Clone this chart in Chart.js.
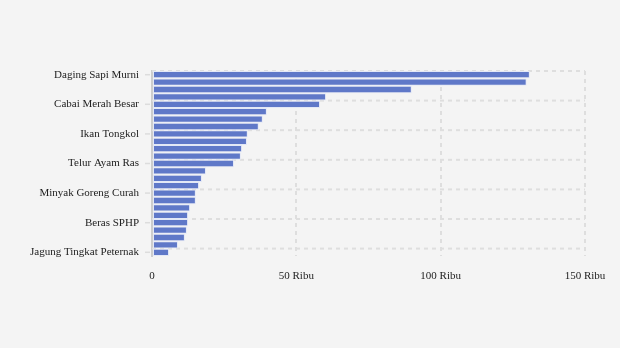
<!DOCTYPE html>
<html>
<head>
<meta charset="utf-8">
<script src="https://cdn.jsdelivr.net/npm/chart.js@4"></script>
<style>
  html, body { margin: 0; padding: 0; background: #f4f4f4; }
  #wrap { width: 620px; height: 348px; }
</style>
</head>
<body>
<div id="wrap"><canvas id="grafico-harga"></canvas></div>
<script>
// komoditas, urut dari harga tertinggi
var komoditas = [
    'Daging Sapi Murni', 'Daging Kerbau Segar Lokal', 'Daging Kerbau Beku Impor', 'Cabai Rawit Merah',
    'Cabai Merah Besar', 'Cabai Merah Keriting', 'Bawang Putih Bonggol', 'Bawang Merah',
    'Ikan Tongkol', 'Ikan Bandeng', 'Ikan Kembung', 'Daging Ayam Ras',
    'Telur Ayam Ras', 'Gula Konsumsi', 'Minyak Goreng Kemasan', 'Minyakita',
    'Minyak Goreng Curah', 'Beras Premium', 'Beras Medium', 'Tepung Terigu Kemasan',
    'Beras SPHP', 'Kedelai Biji Kering', 'Garam Konsumsi', 'Tepung Terigu Curah',
    'Jagung Tingkat Peternak'
];

// harga rata-rata (Rp/kg)
var harga = [
    130900, 129800, 90000, 60300,
    58200, 39800, 38400, 37000,
    33200, 32900, 31200, 30800,
    28400, 18700, 17300, 16300,
    15200, 15200, 13200, 12500,
    12500, 12100, 11400, 9000,
    5900
];

var tickSumbuX = [0, 50000, 100000, 150000];
var labelTiap = 4;   // hanya tiap kategori ke-4 diberi label

// garis bantu horizontal (di batas atas kategori berlabel) + tick kecil di kiri sumbu Y
var gridKategori = {
    id: 'gridKategori',
    beforeDatasetsDraw: function (chart) {
        var y = chart.scales.y;
        var area = chart.chartArea;
        var ctx = chart.ctx;
        ctx.save();
        ctx.strokeStyle = '#dedede';
        ctx.lineWidth = 2;
        ctx.setLineDash([4, 4]);
        for (var i = 0; i < komoditas.length; i += labelTiap) {
            var p = y.getPixelForValue(i);
            var half = i > 0 ? (p - y.getPixelForValue(i - 1)) / 2 : (y.getPixelForValue(1) - p) / 2;
            var py = p - half;
            ctx.beginPath();
            ctx.moveTo(area.left, py);
            ctx.lineTo(area.right, py);
            ctx.stroke();
        }
        ctx.restore();
    },
    afterDraw: function (chart) {
        var y = chart.scales.y;
        var ctx = chart.ctx;
        ctx.save();
        ctx.strokeStyle = '#dcdcdc';
        ctx.lineWidth = 1.5;
        for (var i = 0; i < komoditas.length; i += labelTiap) {
            var py = y.getPixelForValue(i);
            ctx.beginPath();
            ctx.moveTo(y.right - 7, py);
            ctx.lineTo(y.right - 2, py);
            ctx.stroke();
        }
        ctx.restore();
    }
};

var graf = document.getElementById('grafico-harga').getContext('2d');

var grafico = new Chart(graf, {
    type: 'bar',
    data: {
        labels: komoditas,
        datasets: [{
            label: 'Harga',
            data: harga,
            backgroundColor: '#5f78c8',
            borderColor: '#e3e8f6',
            borderWidth: 1,
            borderSkipped: false,
            barPercentage: 0.98,
            categoryPercentage: 1
        }]
    },
    options: {
        indexAxis: 'y',
        responsive: true,
        maintainAspectRatio: false,
        animation: false,
        layout: {
            padding: { left: 0, right: 35, top: 71, bottom: 0 }
        },
        plugins: {
            legend: { display: false },
            tooltip: { enabled: false }
        },
        scales: {
            x: {
                min: 0,
                max: 150000,
                afterBuildTicks: function (scale) {
                    scale.ticks = tickSumbuX.map(function (v) { return { value: v }; });
                },
                afterFit: function (scale) { scale.height = 92; },
                border: { display: false, dash: [4, 4] },
                grid: {
                    color: '#dedede',
                    lineWidth: 2,
                    drawTicks: false
                },
                ticks: {
                    padding: 14,
                    color: '#222',
                    font: { family: 'Liberation Serif', size: 11 },
                    callback: function (v) { return v === 0 ? '0' : (v / 1000) + ' Ribu'; }
                }
            },
            y: {
                afterFit: function (scale) { scale.width = 152; },
                border: { display: true, color: '#cdcdcd', width: 2 },
                grid: { display: false, drawTicks: false },
                ticks: {
                    autoSkip: false,
                    padding: 13,
                    color: '#222',
                    font: { family: 'Liberation Serif', size: 11 },
                    callback: function (v, i) { return i % labelTiap === 0 ? this.getLabelForValue(v) : ''; }
                }
            }
        }
    },
    plugins: [gridKategori]
});
</script>
</body>
</html>
